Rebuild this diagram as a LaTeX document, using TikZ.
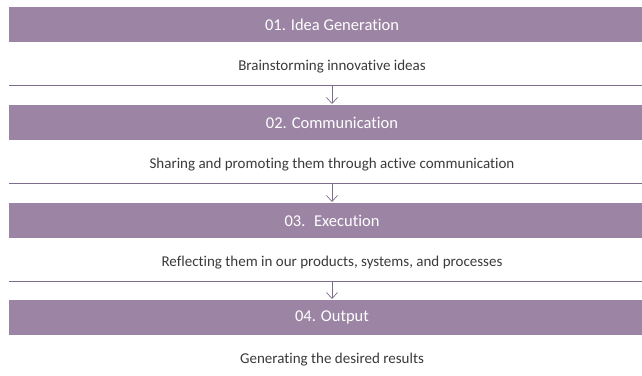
\documentclass[tikz,border=0pt]{standalone}
\usepackage{fontspec}
\setmainfont{Carlito}[RawFeature={-liga}]
\usetikzlibrary{arrows.meta}
\definecolor{barcol}{HTML}{9C85A4}
\definecolor{linecol}{HTML}{7F6C8C}
\definecolor{txtcol}{HTML}{3A3A3A}
\tikzset{
  bar/.style={fill=barcol, draw=none, minimum width=633pt, minimum height=35pt, inner sep=0pt, anchor=north west},
  title/.style={text=white, font=\fontsize{16.5}{18}\selectfont, inner sep=0pt},
  desc/.style={text=txtcol, font=\fontsize{15}{17}\selectfont, inner sep=0pt},
  sepline/.style={draw=linecol, line width=0.9pt},
  flow/.style={draw=linecol, line width=0.7pt, -{Straight Barb[length=6pt,width=11pt,line width=0.7pt]}}
}
\begin{document}
\begin{tikzpicture}[x=1pt,y=-1pt]
\useasboundingbox (0,0) rectangle (642,375);
% bars
\node[bar] (b1) at (9,7) {};
\node[bar] (b2) at (9,105) {};
\node[bar] (b3) at (9,203) {};
\node[bar] (b4) at (9,300) {};
% titles
\node[title] (t1) at (332,24.5) {01. Idea Generation};
\node[title] (t2) at (332,122.5) {02. Communication};
\node[title] (t3) at (332,220.5) {03.~ Execution};
\node[title] (t4) at (332,317.5) {04. Output};
% descriptions
\node[desc] (d1) at (332,67) {Brainstorming innovative ideas};
\node[desc] (d2) at (332,165) {Sharing and promoting them through active communication};
\node[desc] (d3) at (332,263) {Reflecting them in our products, systems, and processes};
\node[desc] (d4) at (332,360) {Generating the desired results};
% separator lines
\coordinate (l1a) at (9,85.5);  \coordinate (l1b) at (642,85.5);
\coordinate (l2a) at (9,183.5); \coordinate (l2b) at (642,183.5);
\coordinate (l3a) at (9,281.5); \coordinate (l3b) at (642,281.5);
\draw[sepline] (l1a) -- (l1b);
\draw[sepline] (l2a) -- (l2b);
\draw[sepline] (l3a) -- (l3b);
% arrows
\coordinate (a1) at (332,85.5);
\coordinate (a2) at (332,183.5);
\coordinate (a3) at (332,281.5);
\draw[flow] (a1) -- ([yshift=1pt]a1 |- b2.north);
\draw[flow] (a2) -- ([yshift=1pt]a2 |- b3.north);
\draw[flow] (a3) -- ([yshift=1pt]a3 |- b4.north);
\end{tikzpicture}
\end{document}
